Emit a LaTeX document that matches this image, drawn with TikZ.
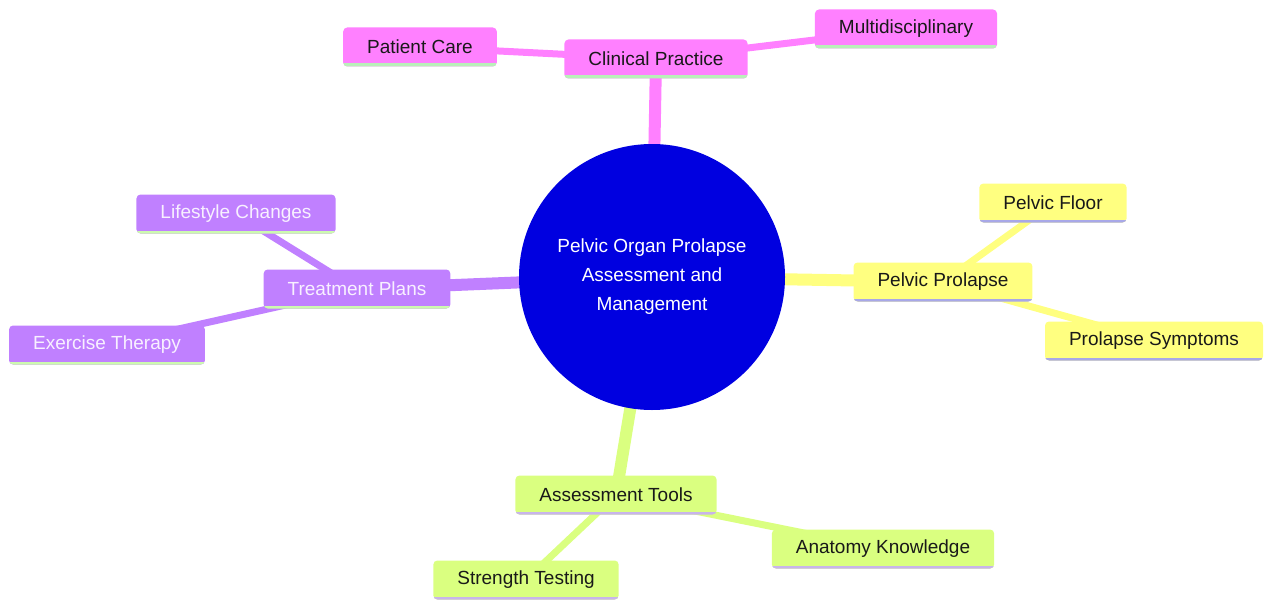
\documentclass[tikz,border=0pt]{standalone}
\usepackage{fontspec}
\setmainfont{Liberation Sans}
\usetikzlibrary{backgrounds}
\definecolor{cpink}{RGB}{255,128,255}
\definecolor{cyellow}{RGB}{255,255,128}
\definecolor{cpurple}{RGB}{192,128,255}
\definecolor{cgreen}{RGB}{218,255,128}
\definecolor{cblue}{RGB}{0,0,224}
\definecolor{ulgreen}{RGB}{185,240,185}
\definecolor{ullav}{RGB}{168,168,232}
\definecolor{ullgreen}{RGB}{205,250,175}
\definecolor{ulpurp}{RGB}{200,180,235}
\definecolor{darktext}{RGB}{25,25,25}
\definecolor{lighttext}{RGB}{248,240,255}
\tikzset{
  mmbox/.style 2 args={draw=none, fill=#1, rounded corners=4pt, inner xsep=24pt,
    minimum height=39pt, font=\fontsize{19}{22}\selectfont,
    path picture={\draw[line width=6pt, #2] (path picture bounding box.south west) -- (path picture bounding box.south east);}},
  pinkbox/.style={mmbox={cpink}{ulgreen}, text=darktext},
  yellowbox/.style={mmbox={cyellow}{ullav}, text=darktext},
  purplebox/.style={mmbox={cpurple}{ullgreen}, text=lighttext},
  greenbox/.style={mmbox={cgreen}{ulpurp}, text=darktext},
  mainedge/.style={line width=12pt, draw=#1},
  subedge/.style={line width=7pt, draw=#1},
}
\begin{document}
\begin{tikzpicture}[x=1pt,y=-1pt]
\useasboundingbox (0,0) rectangle (1264,602);
\node[circle, fill=cblue, minimum size=266pt, inner sep=0pt, text=white, align=center,
  font=\fontsize{19}{29}\selectfont] (root) at (652,277) {Pelvic Organ Prolapse\\Assessment and\\Management};

\node[pinkbox] (cp) at (656,59) {Clinical Practice};
\node[pinkbox] (pc) at (420,47) {Patient Care};
\node[pinkbox] (md) at (906,29) {Multidisciplinary};

\node[yellowbox] (pp) at (943,282) {Pelvic Prolapse};
\node[yellowbox] (pf) at (1053,203) {Pelvic Floor};
\node[yellowbox] (ps) at (1154,341) {Prolapse Symptoms};

\node[purplebox] (tp) at (357,289) {Treatment Plans};
\node[purplebox] (lc) at (236,214) {Lifestyle Changes};
\node[purplebox] (et) at (107,345) {Exercise Therapy};

\node[greenbox] (at) at (616,495) {Assessment Tools};
\node[greenbox] (ak) at (883,549) {Anatomy Knowledge};
\node[greenbox] (st) at (526,580) {Strength Testing};

\begin{scope}[on background layer]
\draw[mainedge=cpink] (root.center) -- (cp.center);
\draw[subedge=cpink] (cp.center) -- (pc.center);
\draw[subedge=cpink] (cp.center) -- (md.center);
\draw[mainedge=cyellow] (root.center) -- (pp.center);
\draw[subedge=cyellow] (pp.center) -- (pf.center);
\draw[subedge=cyellow] (pp.center) -- (ps.center);
\draw[mainedge=cpurple] (root.center) -- (tp.center);
\draw[subedge=cpurple] (tp.center) -- (lc.center);
\draw[subedge=cpurple] (tp.center) -- (et.center);
\draw[mainedge=cgreen] (root.center) -- (at.center);
\draw[subedge=cgreen] (at.center) -- (ak.center);
\draw[subedge=cgreen] (at.center) -- (st.center);
\end{scope}
\end{tikzpicture}
\end{document}
